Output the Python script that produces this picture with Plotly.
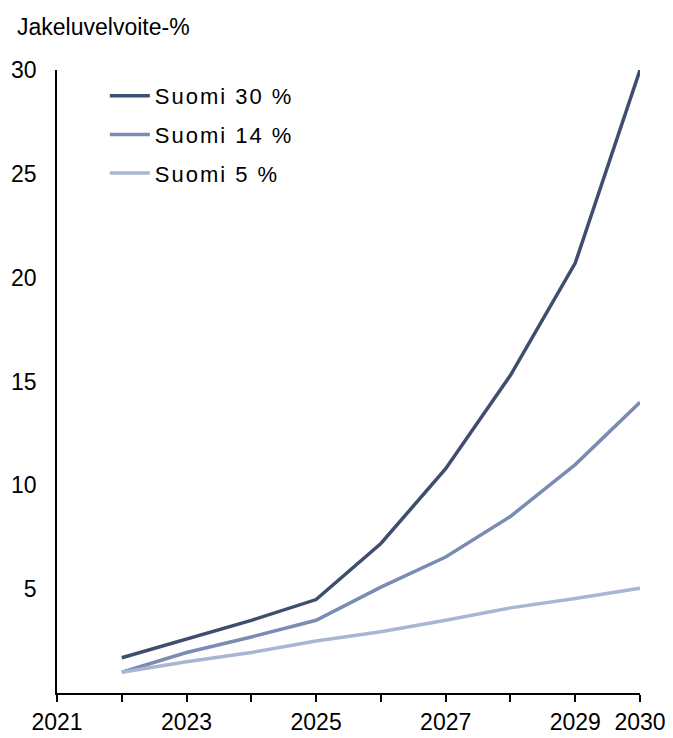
import plotly.graph_objects as go

years = [2022, 2023, 2024, 2025, 2026, 2027, 2028, 2029, 2030]
suomi_30 = [1.7, 2.6, 3.5, 4.5, 7.2, 10.8, 15.3, 20.7, 30.0]
suomi_14 = [1.0, 1.95, 2.7, 3.5, 5.1, 6.55, 8.5, 11.0, 14.0]
suomi_5 = [1.0, 1.5, 1.95, 2.5, 2.95, 3.5, 4.1, 4.55, 5.05]

series_names = ["Suomi 30 %", "Suomi 14 %", "Suomi 5 %"]
series_colors = ["#3f4e6f", "#7a8cb4", "#a9b6d3"]

x_tickvals = [2021, 2022, 2023, 2024, 2025, 2026, 2027, 2028, 2029, 2030]
x_ticktext = ["2021", "", "2023", "", "2025", "", "2027", "", "2029", "2030"]
y_tickvals = [5, 10, 15, 20, 25, 30]

FONT = "Liberation Sans, Arial, sans-serif"

fig = go.Figure()
for name, vals, col in zip(series_names, [suomi_30, suomi_14, suomi_5], series_colors):
    fig.add_trace(go.Scatter(
        x=years, y=vals, mode="lines", name=f'<span style="letter-spacing:2px">{name}</span>',
        line=dict(color=col, width=3.5), legendgroup=name,
    ))

# page body has an 8px margin, so the figure is sized/offset to compensate
fig.update_layout(
    width=665, height=730,
    paper_bgcolor="white", plot_bgcolor="white",
    margin=dict(l=49, r=33, t=62, b=45, autoexpand=False),
    font=dict(family=FONT, size=22, color="black"),
    showlegend=True,
    legend=dict(
        x=0.082, y=1 - 5/623, xanchor="left", yanchor="top",
        font=dict(family=FONT, size=22, color="black"),
        bgcolor="rgba(0,0,0,0)", traceorder="grouped", tracegroupgap=7,
        itemwidth=40,
    ),
    annotations=[dict(
        text="Jakeluvelvoite-%", xref="paper", yref="paper",
        x=-42/583, y=1 + 43/623, xanchor="left", yanchor="middle",
        showarrow=False, font=dict(family=FONT, size=23, color="black"),
    )],
)

fig.update_xaxes(
    range=[2021, 2030], tickvals=x_tickvals, ticktext=x_ticktext,
    ticks="outside", ticklen=7, tickwidth=1.5, tickcolor="black",
    showline=True, linecolor="black", linewidth=1.5,
    showgrid=False, zeroline=False, automargin=False,
    tickfont=dict(family=FONT, size=23, color="black"),
    ticklabelstandoff=1, ticklabeloverflow="allow",
)
fig.update_yaxes(
    range=[0, 30], tickvals=y_tickvals,
    ticks="", showline=True, linecolor="black", linewidth=1.5,
    showgrid=False, zeroline=False, automargin=False,
    tickfont=dict(family=FONT, size=23, color="black"),
    ticklabelstandoff=14, ticklabeloverflow="allow",
)

fig.write_html("out.html")
